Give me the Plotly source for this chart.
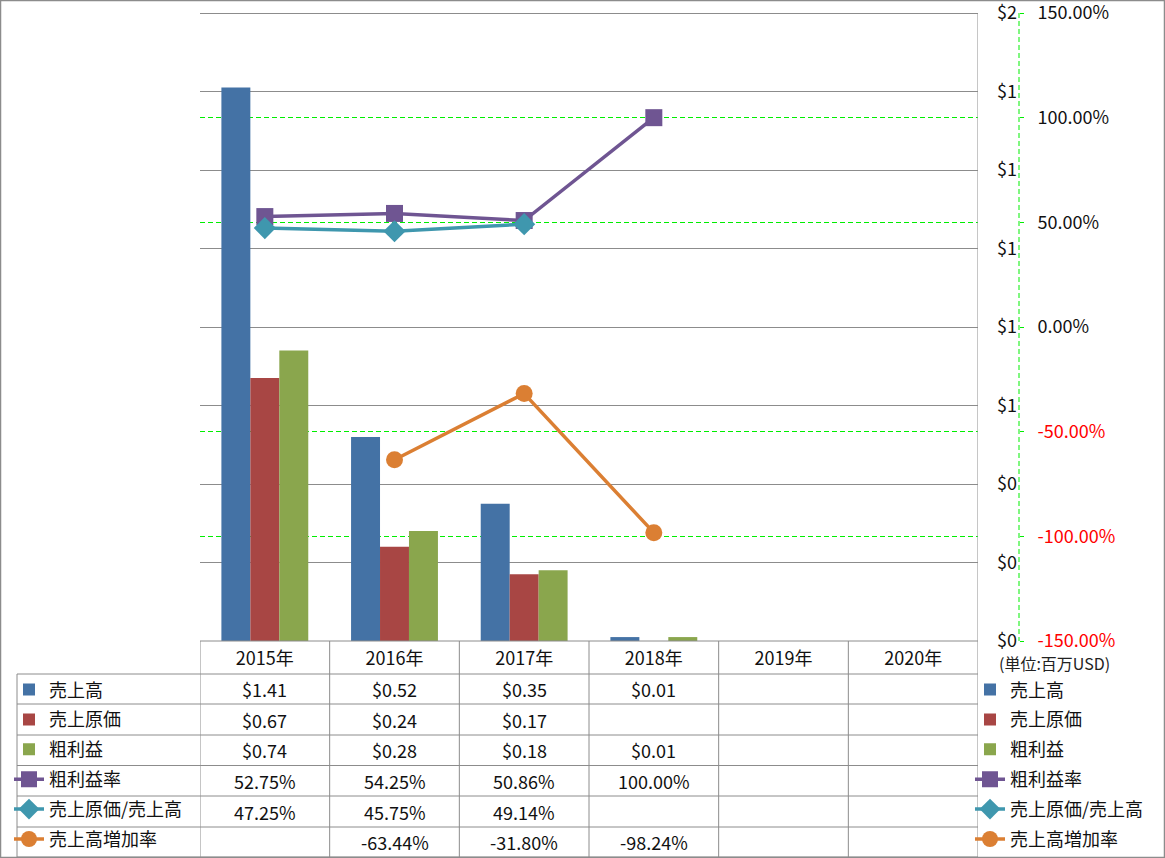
import plotly.graph_objects as go

W, H = 1165, 858

years = ["2015年", "2016年", "2017年", "2018年", "2019年", "2020年"]
sales = [1.41, 0.52, 0.35, 0.01, None, None]
cost = [0.67, 0.24, 0.17, None, None, None]
gross = [0.74, 0.28, 0.18, 0.01, None, None]
gross_rate = [0.5275, 0.5425, 0.5086, 1.00, None, None]
cost_rate = [0.4725, 0.4575, 0.4914, None, None, None]
growth = [None, -0.6344, -0.3180, -0.9824, None, None]

names = ["売上高", "売上原価", "粗利益", "粗利益率", "売上原価/売上高", "売上高増加率"]
colors = ["#4472A5", "#A84644", "#8AA64D", "#6F5592", "#3F97AE", "#DB7F33"]
symbols = [None, None, None, "square", "diamond", "circle"]

usd_ticks = [0, 0.2, 0.4, 0.6, 0.8, 1.0, 1.2, 1.4, 1.6]
pct_ticks = [-1.5, -1.0, -0.5, 0, 0.5, 1.0, 1.5]

FONT = "Noto Sans CJK JP"


def px(x):
    return x / W


def py(y):
    return 1 - y / H


fig = go.Figure()

bar_data = [sales, cost, gross]
line_data = [gross_rate, cost_rate, growth]

# real traces feed the right legend, empty copies feed the legend inside the table
for leg in ["legend", "legend2"]:
    real = leg == "legend"
    for i in range(3):
        fig.add_trace(go.Bar(
            x=years if real else [None],
            y=bar_data[i] if real else [None],
            name=names[i],
            marker=dict(color=colors[i], line=dict(width=0)),
            xaxis="x" if real else "x2",
            yaxis="y" if real else "y3",
            legend=leg,
            legendgroup=leg + str(i),
        ))
    for j in range(3):
        i = j + 3
        fig.add_trace(go.Scatter(
            x=years if real else [None],
            y=line_data[j] if real else [None],
            name=names[i],
            mode="lines+markers",
            line=dict(color=colors[i], width=3.5),
            marker=dict(symbol=symbols[i], size=17, color=colors[i]),
            xaxis="x" if real else "x2",
            yaxis="y2" if real else "y3",
            legend=leg,
            legendgroup=leg + str(i),
        ))

# table text
row_edges = [641, 674, 704, 735, 765.5, 796, 827, 857]
series = [sales, cost, gross, gross_rate, cost_rate, growth]
for r, vals in enumerate(series):
    yc = (row_edges[r + 1] + row_edges[r + 2]) / 2
    for yr, v in zip(years, vals):
        if v is None:
            continue
        txt = "${:.2f}".format(v) if r < 3 else "{:.2f}%".format(v * 100)
        fig.add_annotation(x=yr, xref="x", y=py(yc), yref="paper", text=txt,
                           xanchor="center", yanchor="middle", showarrow=False,
                           font=dict(size=18, color="#111", family=FONT))

shapes = []
gray = "#8c8c8c"
green = "#00ee00"
# table grid
for k in range(7):
    top = 13 if k == 6 else 641
    shapes.append(dict(type="line", xref="x", yref="paper", x0=k - 0.5, x1=k - 0.5,
                       y0=py(top), y1=py(857), line=dict(color=gray, width=1)))
shapes.append(dict(type="line", xref="paper", yref="paper", x0=px(17), x1=px(17),
                   y0=py(674), y1=py(857), line=dict(color=gray, width=1)))
for i, e in enumerate(row_edges):
    x0 = 200 if i == 0 else 17
    shapes.append(dict(type="line", xref="paper", yref="paper", x0=px(x0), x1=px(978),
                       y0=py(e), y1=py(e), line=dict(color=gray, width=1)))
# secondary axis dashed line
shapes.append(dict(type="line", xref="paper", yref="paper", x0=px(1019), x1=px(1019),
                   y0=py(13), y1=py(641), line=dict(color=green, width=1, dash="5px,3px")))
# outer border
shapes.append(dict(type="rect", xref="paper", yref="paper", x0=px(0.5), x1=px(W - 0.5),
                   y0=py(H - 0.5), y1=py(0.5), line=dict(color=gray, width=1.5)))

fig.add_annotation(x=px(1054), y=py(663), xref="paper", yref="paper", text="(単位:百万USD)",
                   xanchor="center", yanchor="middle", showarrow=False,
                   font=dict(size=16, color="#222", family=FONT))

pct_text = []
for t in pct_ticks:
    s = "{:.2f}%".format(t * 100)
    pct_text.append('<span style="color:red">' + s + "</span>" if t < 0 else s)
usd_text = ["${:.0f}".format(v) for v in usd_ticks]

# a little headroom above the top gridline
top_px, bot_px = 5, 641
usd_top = 1.6 * (bot_px - top_px) / (bot_px - 13)
pct_top = -1.5 + 3.0 * (bot_px - top_px) / (bot_px - 13)

# legends must stay inside the page, otherwise they push the margins
leg_style = dict(xanchor="left", yanchor="top", traceorder="grouped",
                 tracegroupgap=3.5, font=dict(size=18), bgcolor="rgba(0,0,0,0)")

fig.update_layout(
    width=W, height=H,
    margin=dict(l=0, r=0, t=0, b=0),
    plot_bgcolor="white", paper_bgcolor="white",
    font=dict(family=FONT, size=18, color="#111"),
    barmode="group", bargap=0.33, bargroupgap=0,
    shapes=shapes,
    xaxis=dict(domain=[px(200), px(978)], type="category", range=[-0.5, 5.5],
               showgrid=False, showline=False, ticks="", ticklabelstandoff=5,
               automargin=False, tickfont=dict(size=18)),
    xaxis2=dict(visible=False, overlaying="x"),
    # percent axis is the base so the grey grid is drawn over the green one
    yaxis2=dict(domain=[py(bot_px), py(top_px)], range=[-1.5, pct_top],
                tickvals=pct_ticks, ticktext=pct_text,
                anchor="free", position=px(1019), side="right", showline=False,
                ticks="outside", ticklen=4, tickcolor=green, ticklabelstandoff=10,
                ticklabeloverflow="allow", automargin=False,
                showgrid=True, gridcolor=green, griddash="5px,3px", gridwidth=1,
                zeroline=False, tickfont=dict(size=18)),
    yaxis=dict(overlaying="y2", range=[0, usd_top], tickvals=usd_ticks,
               ticktext=usd_text, anchor="free", position=px(1017), side="left",
               ticklabeloverflow="allow", automargin=False,
               showgrid=True, gridcolor=gray, gridwidth=1, zeroline=False,
               showline=False, ticks="", tickfont=dict(size=18)),
    yaxis3=dict(visible=False, overlaying="y2"),
    legend=dict(x=px(970), y=py(671.3), itemclick=False, **leg_style),
    legend2=dict(x=px(9), y=py(671.3), **leg_style),
)

fig.write_html("out.html", config={"displayModeBar": False},
               post_script="document.body.style.margin='0';")
